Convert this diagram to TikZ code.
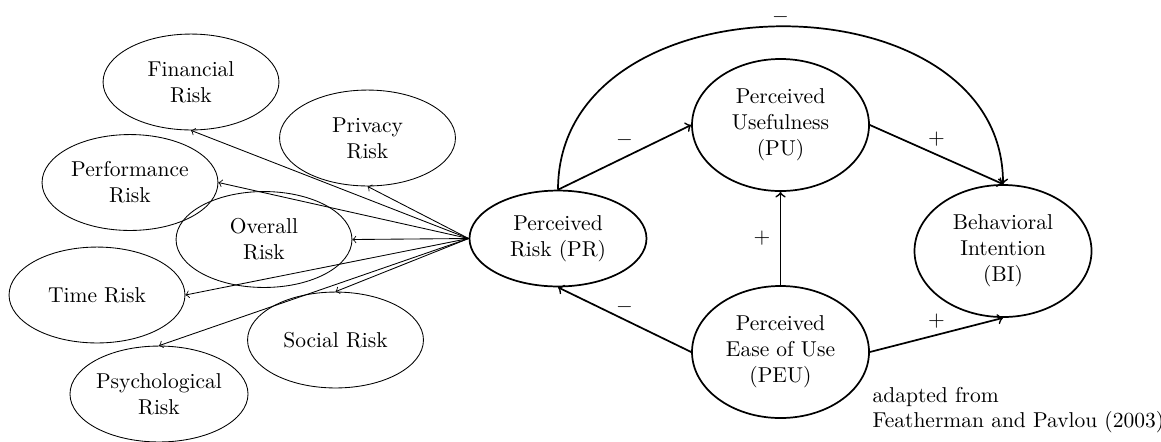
\documentclass[tikz,border=0pt]{standalone}
\usetikzlibrary{shapes.geometric}
\begin{document}
\begin{tikzpicture}[x=0.465pt,y=-0.465pt,
  risk/.style={ellipse,draw,minimum width=81.8pt,minimum height=44.6pt,inner sep=0pt,align=center},
  construct/.style={ellipse,draw,thick,minimum width=82.3pt,minimum height=61.4pt,inner sep=0pt,align=center},
  facet/.style={->},
  link/.style={->,thick},
  sign/.style={midway,inner sep=0pt}]
\useasboundingbox (0,0) rectangle (1161,441);

% risk facets
\node[risk] (fin)  at (191,82)    {Financial\\Risk};
\node[risk] (priv) at (367.5,138) {Privacy\\Risk};
\node[risk] (perf) at (130,182.5) {Performance\\Risk};
\node[risk] (over) at (264,239.5) {Overall\\Risk};
\node[risk] (time) at (97,295)    {Time Risk};
\node[risk] (soc)  at (335.5,340) {Social Risk};
\node[risk] (psy)  at (159,394)   {Psychological\\Risk};

% core constructs
\node[construct,minimum height=44.6pt] (pr) at (558,238.5) {Perceived\\Risk (PR)};
\node[construct] (pu)  at (780.5,125) {Perceived\\Usefulness\\(PU)};
\node[construct] (peu) at (780.5,352) {Perceived\\Ease of Use\\(PEU)};
\node[construct] (bi)  at (1003,251)  {Behavioral\\Intention\\(BI)};

% perceived risk decomposes into its facets
\draw[facet] (pr.west) -- (fin.south);
\draw[facet] (pr.west) -- (priv.south);
\draw[facet] (pr.west) -- (perf.east);
\draw[facet] (pr.west) -- (over.east);
\draw[facet] (pr.west) -- (time.east);
\draw[facet] (pr.west) -- (soc.north);
\draw[facet] (pr.west) -- (psy.north);

% structural paths
\draw[link] (pr.north) -- node[sign,yshift=8pt] {$-$} (pu.west);
\draw[link] (pu.east) -- node[sign,yshift=7pt] {$+$} (bi.north);
\draw[link] (peu.north) -- node[sign,xshift=-8.6pt] {$+$} (pu.south);
\draw[link] (peu.west) -- node[sign,yshift=6pt] {$-$} (pr.south);
\draw[link] (peu.east) -- node[sign,yshift=6.5pt] {$+$} (bi.south);
\draw[link] (pr.north) .. controls (558,-27) and (1003,-27) .. node[sign,yshift=4.5pt] {$-$} (bi.north);

\node[align=left,anchor=west] (src) at (865,410) {adapted from\\Featherman and Pavlou (2003)};
\end{tikzpicture}
\end{document}
